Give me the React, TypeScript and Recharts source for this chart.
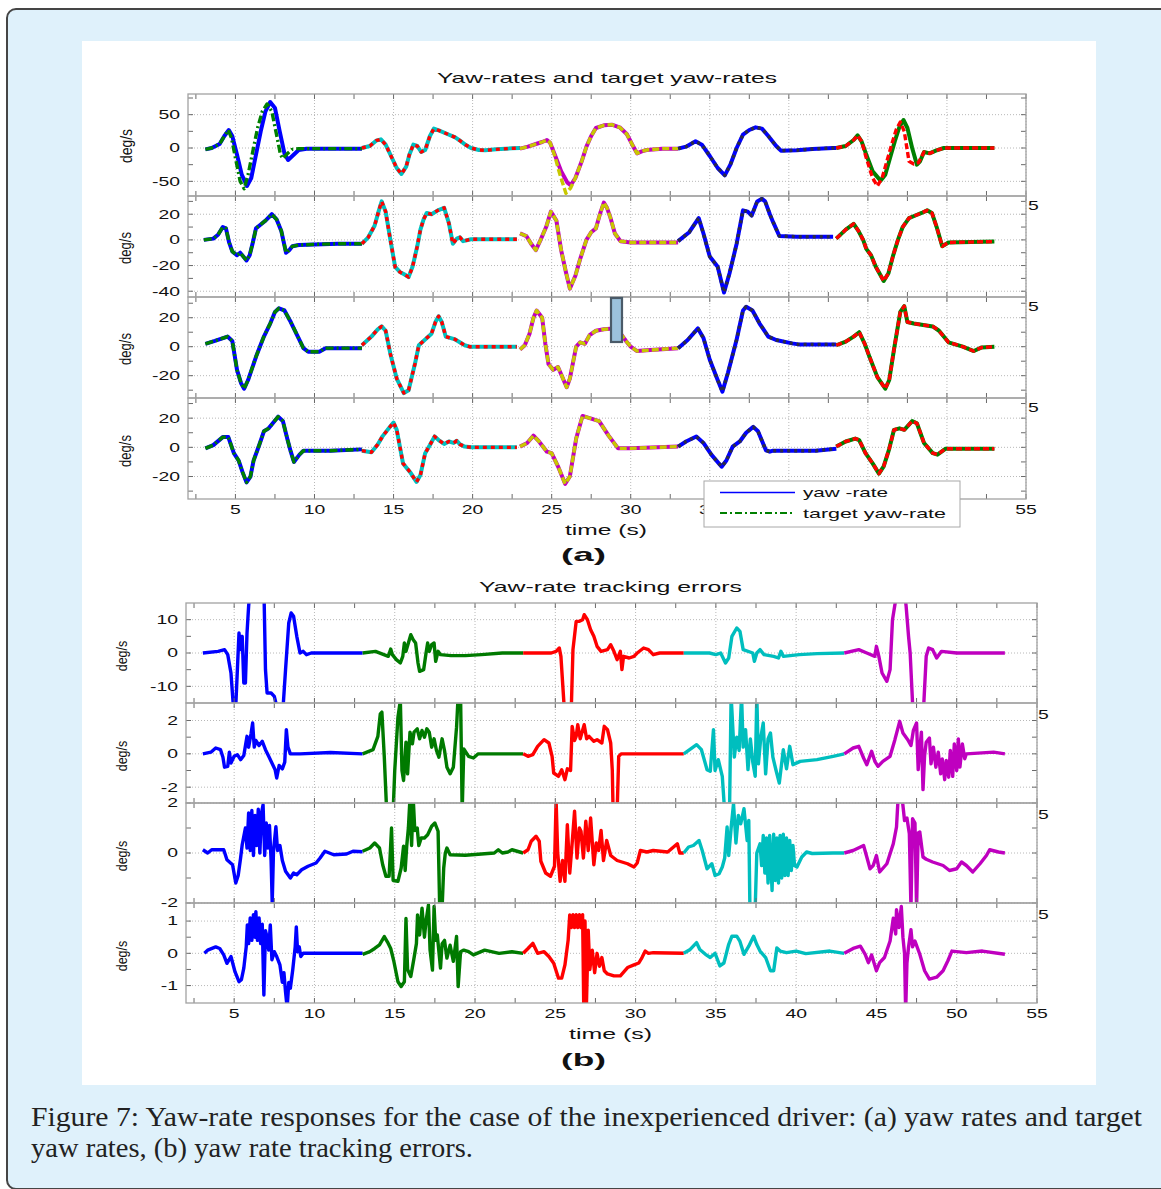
import React from "react";
import { LineChart, Line, XAxis, YAxis, CartesianGrid } from "recharts";

type Pt = [number, number];

// ================= DATA =================
const X_TICKS = [2.5, 5, 7.5, 10, 12.5, 15, 17.5, 20, 22.5, 25, 27.5, 30, 32.5, 35, 37.5, 40, 42.5, 45, 47.5, 50, 52.5, 55];
const X_LABELS = [5, 10, 15, 20, 25, 30, 35, 40, 45, 50, 55];
// in (a) the labels 40, 45, 50 are hidden behind the legend box
const X_LABELS_A = [5, 10, 15, 20, 25, 30, 35, 55];
const X_DOMAIN: [number, number] = [2, 55];

// (a) panel 1
const a1Seg1Yaw: Pt[] = [[3.1,-2],[3.5,0],[4.0,6],[4.3,18],[4.58,27],[4.8,18],[5.1,-10],[5.4,-40],[5.73,-57],[6.0,-45],[6.3,-10],[6.6,25],[6.9,55],[7.2,69],[7.5,60],[7.8,25],[8.1,-8],[8.33,-18],[8.6,-12],[9.0,-3],[9.5,-1],[10,-1],[13,-1]];
const a1Seg1Target: Pt[] = [[3.1,-2],[3.5,0],[4.0,6],[4.3,18],[4.55,27],[4.75,15],[5.0,-15],[5.3,-50],[5.55,-61],[5.8,-40],[6.1,-5],[6.4,30],[6.7,55],[7.0,66],[7.3,55],[7.6,20],[7.85,-10],[8.0,-16],[8.3,-8],[8.6,-2],[9.0,-1],[13,-1]];
const a1Seg2: Pt[] = [[13,0],[13.5,3],[13.9,11],[14.2,13],[14.5,5],[14.9,-15],[15.2,-30],[15.5,-39],[15.8,-28],[16.0,-10],[16.25,5],[16.5,3],[16.75,-6],[17.0,-3],[17.3,18],[17.55,29],[17.9,26],[18.4,21],[18.9,16],[19.2,11],[19.6,4],[19.9,0],[20.4,-3],[20.8,-3.5],[21.5,-2],[22.5,-0.5],[23,0]];
const a1Seg3Yaw: Pt[] = [[23,-1],[23.5,2],[24,6],[24.4,9],[24.7,12],[24.9,8],[25.2,-10],[25.6,-35],[26.0,-52],[26.2,-56],[26.5,-45],[26.9,-20],[27.2,2],[27.5,18],[27.8,30],[28.3,34],[28.8,35],[29.3,31],[29.75,21],[30.1,5],[30.4,-8],[30.7,-5],[31.0,-3],[32,-1],[33,-1]];
const a1Seg3Target: Pt[] = [[23,-1],[23.5,2],[24,6],[24.4,9],[24.7,12],[24.9,8],[25.2,-12],[25.5,-38],[25.9,-68],[26.2,-60],[26.5,-45],[26.9,-20],[27.2,2],[27.5,18],[27.8,30],[28.3,34],[28.8,35],[29.3,31],[29.75,21],[30.1,5],[30.4,-8],[30.7,-5],[31.0,-3],[32,-1],[33,-1]];
const a1Seg4: Pt[] = [[33,-1],[33.5,2],[34.1,10],[34.5,5],[35.0,-12],[35.5,-30],[35.95,-41],[36.3,-25],[36.7,0],[37.1,20],[37.5,27],[37.9,31],[38.3,29],[38.7,18],[39.2,3],[39.5,-4],[40.5,-3.5],[41.5,-1.5],[42.8,0],[43,0]];
const a1Seg5Yaw: Pt[] = [[43,0],[43.6,3],[44.1,12],[44.35,19],[44.6,10],[44.9,-10],[45.3,-35],[45.8,-49],[46.1,-40],[46.4,-15],[46.7,10],[47.0,32],[47.25,42],[47.5,30],[47.8,0],[48.1,-25],[48.3,-20],[48.55,-6],[48.9,-8],[49.3,-4],[49.8,0],[53,0]];
const a1Seg5Target: Pt[] = [[43,0],[43.6,3],[44.1,12],[44.35,19],[44.6,10],[44.9,-15],[45.3,-45],[45.6,-57],[45.9,-45],[46.2,-20],[46.5,5],[46.8,28],[47.05,39],[47.3,25],[47.6,-20],[47.9,-24],[48.2,-22],[48.55,-6],[48.9,-8],[49.3,-4],[49.8,0],[53,0]];

// (a) panel 2
const a2Seg1: Pt[] = [[3,0],[3.6,1],[3.9,4],[4.2,10],[4.4,9],[4.6,-2],[4.8,-9],[5.1,-12],[5.3,-10],[5.5,-13],[5.7,-16],[5.9,-12],[6.1,-2],[6.3,9],[6.6,12],[6.9,15],[7.3,20],[7.6,16],[7.9,7],[8.2,-10],[8.4,-8],[8.6,-5],[9.0,-4],[10,-3.5],[11.5,-3],[13,-3]];
const a2Seg2: Pt[] = [[13,-3],[13.4,2],[13.8,11],[14.05,22],[14.25,30],[14.5,22],[14.8,0],[15.1,-21],[15.4,-25],[15.7,-27],[15.95,-29],[16.2,-21],[16.5,-5],[16.7,8],[16.9,16],[17.1,21],[17.4,20],[17.8,23],[18.2,25],[18.5,13],[18.75,-3],[19.0,1],[19.2,2],[19.4,-1],[19.9,0.5],[22.8,0.5]];
const a2Seg3: Pt[] = [[23,5],[23.4,3],[23.7,-3],[24.0,-8],[24.3,0],[24.65,10],[24.95,22],[25.3,15],[25.6,-8],[25.9,-25],[26.15,-38],[26.5,-28],[26.8,-15],[27.2,0],[27.5,6],[27.8,9],[28.05,20],[28.3,29],[28.5,25],[28.7,18],[29.0,5],[29.35,-1],[30,-2],[33,-2]];
const a2Seg4: Pt[] = [[33,-1],[33.7,6],[34.3,17],[34.6,5],[35.0,-13],[35.5,-21],[35.9,-41],[36.25,-26],[36.7,-3],[37.1,23],[37.4,22],[37.65,19],[38.0,30],[38.3,32],[38.5,30],[38.8,20],[39.0,14],[39.4,3],[40.5,2.5],[42.8,2.5]];
const a2Seg5: Pt[] = [[43,1],[43.6,8],[44.1,12.5],[44.4,7],[44.7,0],[44.9,-7],[45.2,-12],[45.5,-21],[46.0,-32],[46.3,-26],[46.6,-12],[46.9,0],[47.2,10],[47.6,17],[48.0,19],[48.4,21],[48.75,23],[49.05,21],[49.35,10],[49.7,-5],[50.1,-2],[53,-1.3]];

// (a) panel 3
const a3Seg1: Pt[] = [[3.1,2],[3.7,4],[4.5,7],[4.8,4],[5.1,-16],[5.35,-25],[5.55,-29],[5.8,-23],[6.3,-7],[6.8,7],[7.2,16],[7.5,24],[7.75,26.5],[8.1,25],[8.5,17],[8.9,8],[9.3,-1],[9.6,-3.5],[10.3,-3.5],[10.7,-1],[13,-1]];
const a3Seg2: Pt[] = [[13,1],[13.6,7],[14.0,12],[14.25,14],[14.5,11],[14.8,-5],[15.2,-22],[15.65,-32],[15.95,-30],[16.35,-12],[16.6,1],[17.0,5],[17.4,9],[17.65,17],[17.85,21],[18.05,17],[18.3,7],[18.9,5],[19.5,1],[19.8,0],[22.8,0]];
const a3Seg3: Pt[] = [[23,-2],[23.3,1],[23.6,9],[23.85,20],[24.05,25],[24.4,20],[24.6,2],[24.8,-12],[25.1,-16],[25.4,-14],[25.6,-19],[25.95,-28],[26.15,-22],[26.55,0],[26.8,3],[27.1,2],[27.4,8],[27.8,11],[28.3,12],[28.9,12.5],[29.3,10],[29.7,4],[30.0,0],[30.4,-3],[31,-2.5],[33,-1]];
const a3Seg4: Pt[] = [[33,-1],[33.6,4.6],[34.25,12.6],[34.6,6],[35.0,-9],[35.5,-23],[35.8,-31],[36.15,-18],[36.7,5],[37.1,25],[37.3,27.6],[37.7,25],[38.15,16],[38.7,7],[39.2,4.6],[40.2,2.3],[40.6,1.6],[43,1.6]];
const a3Seg5: Pt[] = [[43,1],[43.6,3.5],[44.1,7],[44.45,10],[44.8,2],[45.1,-7],[45.6,-21],[46.1,-29],[46.35,-23],[46.65,-2],[47.05,24],[47.3,28],[47.5,17],[47.9,16],[48.5,15],[49.1,14],[49.5,11],[50.1,3],[51.0,0],[51.7,-3],[52.2,-0.5],[53,0]];

// (a) panel 4
const a4Seg1: Pt[] = [[3.1,-0.7],[3.6,1.5],[4.2,7],[4.55,7],[4.9,-4],[5.2,-9],[5.45,-17],[5.7,-24],[5.95,-20],[6.15,-9],[6.55,3],[6.8,11],[7.1,13],[7.4,17],[7.7,21],[8.0,18],[8.3,5],[8.5,-3],[8.7,-10],[9.05,-5],[9.3,-2.3],[11,-2.3],[13,-1.4]];
const a4Seg2: Pt[] = [[13,-2.3],[13.6,-3.4],[14.0,2],[14.3,7.5],[14.7,13],[15.0,17],[15.2,12],[15.6,-11],[16.05,-17],[16.45,-23.7],[16.7,-19],[17.0,-4],[17.3,1.6],[17.6,7.5],[17.85,5],[18.2,2.3],[18.5,4],[18.8,3],[19.0,4.5],[19.2,2],[19.5,0.5],[19.9,0],[22.8,0]];
const a4Seg3: Pt[] = [[23,0.5],[23.45,3],[23.85,8],[24.2,4],[24.7,-3],[25.0,-4],[25.4,-13],[25.85,-25],[26.15,-20],[26.55,6],[26.95,21.5],[27.4,20],[28.0,18],[28.3,13],[28.6,8],[29.2,-0.7],[30,-0.7],[33,0.5]];
const a4Seg4: Pt[] = [[33,0.5],[33.5,4],[34.15,7.4],[34.6,3],[35.1,-5],[35.75,-13.3],[36.05,-9],[36.45,0.5],[36.9,4],[37.3,10],[37.75,14],[38.05,11],[38.55,-2],[38.8,-3],[39.0,-2.3],[41.7,-2.3],[43,-1]];
const a4Seg5: Pt[] = [[43,0.5],[43.6,4],[44.2,6],[44.45,5],[44.85,-4],[45.3,-11],[45.7,-18],[46.0,-13],[46.35,-1],[46.65,12],[47.0,13],[47.3,12],[47.8,18],[48.1,16.5],[48.55,3],[49.1,-4],[49.4,-5],[49.9,-1],[53,-1]];

// (b) panel 1 errors
const b1Seg1: Pt[] = [[3.05,0],[4.0,0.5],[4.4,1],[4.6,-0.5],[4.8,-6],[4.95,-16],[5.1,-16],[5.2,-5],[5.3,6],[5.4,1],[5.5,5],[5.6,-9],[5.7,-9],[5.8,6],[5.9,14],[6.0,20],[6.5,30],[6.85,20],[6.95,-5],[7.05,-12],[7.3,-12],[7.5,-13],[7.65,-16],[8.05,-16],[8.2,-5],[8.4,9],[8.55,12],[8.7,11],[8.9,5],[9.1,0],[9.3,0.5],[9.5,-0.5],[9.8,0],[13,0]];
const b1Seg2: Pt[] = [[13,0],[13.8,0.5],[14.6,-1],[14.75,1.2],[14.85,-0.5],[15.1,-2],[15.35,-3],[15.5,-1],[15.6,3],[15.7,0.5],[15.85,3],[16.0,5.5],[16.15,4],[16.3,3],[16.45,-3],[16.55,-5.5],[16.8,-5],[16.95,0],[17.05,3],[17.15,0.5],[17.3,2.5],[17.45,3],[17.55,-2.5],[17.7,0.5],[17.85,-0.5],[18.5,-0.8],[19.4,-0.8],[20.4,-0.5],[21.7,0],[23,0]];
const b1Seg3: Pt[] = [[23,0],[24.75,0],[25.05,0.5],[25.25,1.5],[25.35,-1],[25.55,-16],[26.0,-16],[26.1,1],[26.3,9.5],[26.5,9.5],[26.7,10],[26.8,11.5],[27.0,10],[27.2,7],[27.4,5],[27.6,2],[27.85,0.5],[28.25,1],[28.45,2.5],[28.65,0.5],[28.85,-2],[29.05,0.5],[29.15,-5],[29.25,-1],[29.6,-1.5],[29.9,-1],[30.1,0],[30.5,1.5],[30.8,1],[31.1,-0.5],[31.5,0],[33,0]];
const b1Seg4: Pt[] = [[33,0],[34.6,0],[35.0,-0.5],[35.3,0],[35.6,-3],[35.8,-1.5],[36.0,5],[36.3,7.5],[36.5,6.5],[36.7,1],[37.3,0],[37.4,-2.5],[37.55,0],[37.75,1],[38.0,-0.5],[38.6,-1],[38.9,-1.5],[39.05,0.5],[39.2,-1],[40.2,-0.5],[41.3,-0.2],[43,0]];
const b1Seg5: Pt[] = [[43,0],[43.9,1],[44.4,0],[44.9,-1],[45.0,2],[45.15,-1],[45.35,-6],[45.65,-8.5],[45.85,-5],[46.0,10],[46.15,14.5],[46.35,20],[46.6,25],[46.85,14],[47.0,5],[47.1,0],[47.3,-20],[47.9,-20],[48.1,-1],[48.25,1.5],[48.5,1],[48.75,-1.5],[49.05,0.5],[50,0],[53,0]];

// (b) panel 2
const b2Seg1: Pt[] = [[3.05,0],[3.55,0.1],[3.85,0.35],[4.15,0.25],[4.3,-0.2],[4.4,-0.8],[4.6,-0.75],[4.7,0.1],[4.8,-0.55],[5.0,-0.15],[5.2,-0.05],[5.4,-0.35],[5.6,-0.1],[5.8,1.05],[5.9,0.4],[6.05,1.2],[6.15,1.85],[6.25,0.4],[6.35,0.8],[6.55,0.5],[6.75,0.75],[6.95,0.25],[7.15,-0.15],[7.35,-0.55],[7.55,-0.95],[7.65,-1.45],[7.8,-0.7],[8.0,-0.9],[8.15,-0.5],[8.25,1.45],[8.35,0.4],[8.5,0],[9.1,0],[11,0.08],[13,0]];
const b2Seg2: Pt[] = [[13,0],[13.65,0.25],[13.95,1.05],[14.1,2.4],[14.2,2.5],[14.35,-0.2],[14.5,-3.5],[14.9,-3.5],[15.0,-1],[15.2,2.2],[15.35,3.2],[15.45,-1],[15.55,-1.6],[15.7,0.7],[15.8,-1.2],[15.95,1.3],[16.1,0.6],[16.2,1.3],[16.4,1.5],[16.55,0.9],[16.7,1.4],[16.85,1.0],[17.0,1.5],[17.15,1.3],[17.3,0.4],[17.45,0.9],[17.6,0.2],[17.75,-0.2],[17.95,0.9],[18.1,0.2],[18.25,-0.8],[18.45,-1.2],[18.65,-0.8],[18.85,1.6],[18.95,3.5],[19.1,3.5],[19.2,-3.5],[19.3,0.3],[19.6,-0.15],[19.9,-0.25],[20.2,0],[23,0]];
const b2Seg3: Pt[] = [[23,0],[23.3,-0.15],[23.6,-0.05],[23.9,0.45],[24.3,0.85],[24.6,0.65],[24.8,-0.15],[24.9,-1.15],[25.2,-1.35],[25.4,-0.95],[25.6,-1.55],[25.75,-0.9],[25.95,-1.0],[26.05,1.65],[26.2,0.8],[26.3,1.05],[26.4,1.75],[26.55,0.9],[26.8,1.75],[26.95,0.9],[27.1,1.05],[27.4,0.75],[27.6,0.85],[27.9,0.65],[28.05,1.65],[28.25,1.45],[28.45,0.65],[28.55,-1],[28.6,-3.5],[28.85,-3.5],[28.95,-0.15],[29.1,0],[33,0]];
const b2Seg4: Pt[] = [[33,0],[33.8,0.55],[34.1,0.25],[34.45,-0.95],[34.65,-1.05],[34.85,1.45],[34.95,-1.0],[35.15,-0.35],[35.4,-1.35],[35.55,-3.5],[35.85,-3.5],[35.95,3.5],[36.15,-0.2],[36.3,1.0],[36.45,0.2],[36.6,3.5],[36.7,0.4],[36.85,1.45],[37.0,-0.95],[37.15,0.9],[37.3,-0.5],[37.45,-1.35],[37.55,3.5],[37.65,-0.6],[37.8,1.0],[37.95,1.85],[38.1,-1.2],[38.25,0.9],[38.4,1.25],[38.55,-0.2],[38.75,-1.0],[38.95,-1.75],[39.2,0.25],[39.4,-0.9],[39.6,0.45],[39.8,-0.65],[40.25,-0.45],[41.3,-0.35],[42.3,-0.15],[43,0]];
const b2Seg5: Pt[] = [[43,0],[43.55,0.35],[43.9,0.45],[44.2,-0.25],[44.4,-0.65],[44.7,0.15],[44.9,-0.45],[45.1,-0.75],[45.4,-0.45],[45.85,-0.15],[46.15,0.85],[46.45,1.95],[46.65,1.25],[46.95,0.85],[47.15,0.5],[47.3,1.4],[47.5,1.85],[47.6,-0.95],[47.7,0.3],[47.8,1.3],[47.9,-2.15],[48.0,-0.1],[48.1,0.7],[48.3,0.95],[48.4,-0.6],[48.55,0.4],[48.7,-0.8],[48.85,0.1],[49.0,-1.2],[49.1,-0.3],[49.25,-1.55],[49.35,-0.4],[49.5,-1.4],[49.6,0.2],[49.75,-1.35],[49.85,0.6],[50.0,-1.0],[50.1,0.9],[50.2,-0.8],[50.35,0.6],[50.5,-0.3],[50.6,0],[52.3,0.1],[53,0]];

// (b) panel 3
const b3Seg1: Pt[] = [[3.05,0.13],[3.35,0],[3.6,0.13],[4.35,0.13],[4.55,-0.27],[4.9,-0.47],[5.1,-1.2],[5.25,-0.9],[5.4,-0.2],[5.5,0.33],[5.7,1.0],[5.8,0.2],[5.9,1.6],[6.0,0.1],[6.1,1.7],[6.2,-0.1],[6.3,1.5],[6.4,0.3],[6.5,1.75],[6.6,0],[6.7,1.6],[6.8,1.93],[6.9,-0.1],[7.0,1.2],[7.1,0.2],[7.2,1.1],[7.3,-0.3],[7.37,-2.0],[7.45,0.1],[7.6,1.05],[7.7,0.1],[7.85,0.3],[8.0,-0.3],[8.2,-0.73],[8.5,-1.0],[8.7,-0.8],[8.9,-0.87],[9.2,-0.67],[9.6,-0.53],[10.1,-0.4],[10.35,-0.2],[10.65,0.07],[11.2,-0.07],[12.0,-0.04],[12.4,0.07],[13,0.05]];
const b3Seg2: Pt[] = [[13,0.07],[13.45,0.2],[13.75,0.4],[14.05,0.2],[14.25,-0.47],[14.45,-0.93],[14.65,-0.93],[14.8,1.0],[14.9,-1.1],[15.2,-1.13],[15.4,-0.6],[15.55,0.27],[15.65,-0.7],[15.75,0.3],[15.85,1.0],[15.95,2.2],[16.05,0.3],[16.15,2.2],[16.25,0.9],[16.4,1.0],[16.5,0.3],[16.65,0.6],[16.85,0.6],[17.05,0.73],[17.3,1.07],[17.5,1.2],[17.7,0.87],[17.8,-2.2],[17.95,-2.2],[18.05,-0.6],[18.15,0],[18.25,0.2],[18.45,-0.07],[19.4,-0.09],[20.4,-0.04],[21.2,0],[21.45,0.13],[21.7,0.0],[22.05,0.04],[22.3,0.13],[23,0]];
const b3Seg3: Pt[] = [[23,0],[23.3,0.13],[23.5,0.47],[23.8,0.67],[24.0,0.47],[24.1,-0.33],[24.4,-0.8],[24.7,-0.93],[24.95,-0.53],[25.05,2.1],[25.15,0.0],[25.3,-1.13],[25.45,-0.3],[25.6,-1.13],[25.75,1.13],[25.9,-0.8],[26.05,0.4],[26.2,1.67],[26.35,-0.2],[26.5,1.0],[26.6,0.87],[26.75,-0.2],[26.9,1.27],[27.05,0.1],[27.2,1.4],[27.4,-0.47],[27.55,0.4],[27.7,0.1],[27.85,0.9],[28.0,-0.3],[28.2,0.5],[28.45,-0.1],[28.85,-0.3],[29.5,-0.43],[29.9,-0.56],[30.1,-0.4],[30.3,0.1],[30.7,0.04],[31.1,0.1],[32.0,0.04],[32.6,0.37],[32.75,0],[33,0]];
const b3Seg4: Pt[] = [[33,0],[33.3,0.24],[33.6,0.3],[33.95,0.5],[34.15,0.1],[34.45,-0.63],[34.75,-0.43],[34.95,-0.9],[35.2,-0.83],[35.4,-0.56],[35.55,-0.2],[35.7,1.04],[35.8,-0.1],[35.95,1.0],[36.1,1.97],[36.25,0.4],[36.4,1.5],[36.55,1.17],[36.75,1.77],[36.95,0.5],[37.05,1.3],[37.12,-2.2],[37.45,-2.2],[37.55,0.0],[37.75,0.37],[37.85,-0.5],[37.95,0.7],[38.05,-0.8],[38.15,0.6],[38.25,-1.2],[38.35,0.7],[38.5,-1.5],[38.6,0.75],[38.7,-1.1],[38.8,0.6],[38.9,-1.2],[39.0,0.7],[39.1,-1.0],[39.2,0.75],[39.3,-0.9],[39.4,0.6],[39.5,-0.9],[39.6,0.5],[39.7,-0.7],[39.8,0.3],[39.9,-0.5],[40.05,-0.56],[40.35,-0.16],[40.65,0.04],[41,-0.02],[42.3,0],[43,0]];
const b3Seg5: Pt[] = [[43,0],[43.55,0.1],[44.2,0.3],[44.4,-0.16],[44.6,-0.63],[44.8,-0.5],[45.0,-0.1],[45.2,-0.76],[45.65,-0.43],[46.05,0.37],[46.25,1.04],[46.35,2.2],[46.6,2.2],[46.75,1.3],[46.9,1.4],[47.05,0.77],[47.15,-2.2],[47.25,1.37],[47.4,1.2],[47.5,-2.2],[47.6,0.8],[47.7,0.84],[47.9,-0.16],[48.1,-0.25],[48.5,-0.36],[49.15,-0.5],[49.55,-0.7],[50.0,-0.63],[50.3,-0.36],[50.6,-0.5],[51.0,-0.76],[51.45,-0.43],[51.85,-0.1],[52.05,0.13],[52.6,0.04],[53,0]];

// (b) panel 4
const b4Seg1: Pt[] = [[3.15,0],[3.35,0.1],[3.85,0.2],[4.1,0.15],[4.35,-0.05],[4.55,-0.31],[4.8,-0.1],[5.05,-0.57],[5.3,-0.88],[5.45,-0.82],[5.6,-0.46],[5.75,0.2],[5.82,0.88],[5.9,0.3],[6.0,1.1],[6.1,0.4],[6.2,1.2],[6.3,0.5],[6.35,1.29],[6.45,0.4],[6.55,1.1],[6.65,0.3],[6.75,0.9],[6.85,-1.29],[6.95,0.7],[7.05,0.5],[7.15,0.1],[7.25,0.88],[7.35,-0.2],[7.5,0.05],[7.65,-0.1],[7.85,-0.36],[8.0,-0.9],[8.1,-0.6],[8.2,-1.2],[8.3,-1.7],[8.4,-0.9],[8.5,-1.08],[8.65,-0.5],[8.8,0.2],[8.87,0.82],[8.95,0.05],[9.05,0.2],[9.15,-0.1],[9.3,0],[13,0]];
const b4Seg2: Pt[] = [[13,-0.03],[13.45,0.05],[13.75,0.15],[14.05,0.26],[14.35,0.52],[14.55,0.35],[14.75,0.15],[14.95,-0.26],[15.2,-0.88],[15.4,-1.03],[15.6,-0.88],[15.7,1.08],[15.8,-0.5],[16.0,-0.72],[16.2,-0.15],[16.35,0.3],[16.42,1.19],[16.55,0.57],[16.7,1.4],[16.85,0.5],[16.95,1.0],[17.1,1.5],[17.2,0.1],[17.35,-0.52],[17.45,1.45],[17.55,0.4],[17.65,0.57],[17.85,-0.46],[17.95,0.3],[18.1,0.4],[18.25,-0.15],[18.45,0.25],[18.65,-0.25],[18.85,0.52],[18.95,-1.03],[19.1,0.05],[19.3,0.1],[19.6,0.05],[19.9,-0.05],[20.6,0.1],[21.5,0],[22.3,0.05],[23,0]];
const b4Seg3: Pt[] = [[23,0],[23.3,0.15],[23.6,0.31],[23.9,0],[24.3,0.05],[24.6,-0.1],[24.9,-0.31],[25.2,-0.77],[25.4,-0.77],[25.6,-0.36],[25.8,0.41],[25.9,1.19],[26.0,0.8],[26.1,1.2],[26.2,0.8],[26.3,1.2],[26.4,0.8],[26.5,1.2],[26.6,0.8],[26.7,1.2],[26.78,-2.0],[26.85,1.0],[26.92,-2.0],[27.05,0.72],[27.15,-0.5],[27.3,0.1],[27.45,-0.6],[27.6,0.0],[27.75,-0.4],[27.9,-0.13],[28.05,-0.54],[28.25,-0.64],[28.65,-0.7],[29.05,-0.7],[29.5,-0.44],[29.9,-0.36],[30.2,-0.3],[30.4,-0.13],[30.6,0.07],[30.8,0.0],[31.1,0.02],[33,0]];
const b4Seg4: Pt[] = [[33,0],[33.4,0.12],[33.8,0.33],[34.0,0.12],[34.35,-0.03],[34.65,-0.13],[34.95,0],[35.25,-0.39],[35.5,-0.3],[35.8,0.28],[36.0,0.53],[36.3,0.53],[36.5,0.37],[36.75,-0.03],[37.05,0.22],[37.35,0.53],[37.55,0.27],[37.75,0.07],[38.1,-0.13],[38.4,-0.54],[38.6,-0.54],[38.8,0.17],[39.0,0.07],[39.4,0.02],[40.0,0.07],[40.6,-0.01],[42.1,0.07],[43,0]];
const b4Seg5: Pt[] = [[43,0],[43.55,0.15],[44.0,0.22],[44.3,-0.03],[44.5,-0.29],[44.7,-0.05],[45.0,-0.54],[45.2,-0.29],[45.5,-0.13],[45.85,0.38],[46.05,1.09],[46.2,0.6],[46.25,1.35],[46.4,0.8],[46.55,1.45],[46.65,0.5],[46.75,0.0],[46.82,-1.8],[46.9,-0.3],[47.0,0.2],[47.15,0.73],[47.25,0.2],[47.4,0.38],[47.7,-0.03],[48.0,-0.54],[48.3,-0.8],[48.75,-0.74],[49.15,-0.54],[49.45,-0.23],[49.7,0.07],[50.6,0.02],[51.6,0.07],[53,-0.03]];

// ================= STYLE =================
const FONT = "'Liberation Sans', Arial, Helvetica, sans-serif";
const SX = 1.55;
const FRAME_C = "#a2a2a2";
const TICK_C = "#6a6a6a";
const GRID_C = "#b8b8b8";

const C = {
  blue: "#0000ff", green: "#008000", cyan: "#00c0c0", red: "#ff0000",
  yellow: "#c8c800", magenta: "#c000c0", dark: "#2c2c44",
  bBlue: "#0000ff", bGreen: "#007a00", bRed: "#ff0000", bCyan: "#00bebe", bMag: "#bf00bf",
};

interface Series { data: Pt[]; color: string; width: number; dash?: string }
interface PanelCfg {
  left: number; right: number; top: number; bottom: number;
  domain: [number, number]; ticks: number[]; labels: number[];
  series: Series[]; xLabels: number[];
}

const pairA = (yaw: Pt[], target: Pt[], solid: string, dashed: string, dash: string): Series[] => [
  { data: yaw, color: solid, width: 4 },
  { data: target, color: dashed, width: 3.4, dash },
];

const DD = "8 3 2 3";
const segsA = (s1: Pt[], s1t: Pt[], s2: Pt[], s3: Pt[], s3t: Pt[], s4: Pt[], s5: Pt[], s5t: Pt[]): Series[] => [
  ...pairA(s1, s1t, C.blue, C.green, DD),
  ...pairA(s2, s2, C.cyan, C.red, "4 4"),
  ...pairA(s3, s3t, C.magenta, C.yellow, "7 3"),
  ...pairA(s4, s4, C.blue, C.dark, "3 4"),
  ...pairA(s5, s5t, C.green, C.red, "6 3"),
];

const segsB = (s1: Pt[], s2: Pt[], s3: Pt[], s4: Pt[], s5: Pt[]): Series[] => [
  { data: s1, color: C.bBlue, width: 3.4 },
  { data: s2, color: C.bGreen, width: 3.4 },
  { data: s3, color: C.bRed, width: 3.4 },
  { data: s4, color: C.bCyan, width: 3.4 },
  { data: s5, color: C.bMag, width: 3.4 },
];

const AL = 188, AR = 1026, BL = 186, BR = 1037;
const TA = [30, 20, 10, 0, -10, -20, -30];

const PANELS: PanelCfg[] = [
  { left: AL, right: AR, top: 94, bottom: 196, domain: [-72, 81], ticks: [75, 50, 25, 0, -25, -50], labels: [50, 0, -50], xLabels: [],
    series: segsA(a1Seg1Yaw, a1Seg1Target, a1Seg2, a1Seg3Yaw, a1Seg3Target, a1Seg4, a1Seg5Yaw, a1Seg5Target) },
  { left: AL, right: AR, top: 196, bottom: 297, domain: [-44.5, 34.2], ticks: [30, 20, 10, 0, -10, -20, -30, -40], labels: [20, 0, -20, -40], xLabels: [],
    series: segsA(a2Seg1, a2Seg1, a2Seg2, a2Seg3, a2Seg3, a2Seg4, a2Seg5, a2Seg5) },
  { left: AL, right: AR, top: 297, bottom: 398, domain: [-35.4, 34.3], ticks: TA, labels: [20, 0, -20], xLabels: [],
    series: segsA(a3Seg1, a3Seg1, a3Seg2, a3Seg3, a3Seg3, a3Seg4, a3Seg5, a3Seg5) },
  { left: AL, right: AR, top: 398, bottom: 499, domain: [-35.4, 33.8], ticks: TA, labels: [20, 0, -20], xLabels: X_LABELS_A,
    series: segsA(a4Seg1, a4Seg1, a4Seg2, a4Seg3, a4Seg3, a4Seg4, a4Seg5, a4Seg5) },
  { left: BL, right: BR, top: 603, bottom: 703, domain: [-15, 15], ticks: [10, 5, 0, -5, -10], labels: [10, 0, -10], xLabels: [],
    series: segsB(b1Seg1, b1Seg2, b1Seg3, b1Seg4, b1Seg5) },
  { left: BL, right: BR, top: 703, bottom: 803, domain: [-2.95, 3.05], ticks: [2, 1, 0, -1, -2], labels: [2, 0, -2], xLabels: [],
    series: segsB(b2Seg1, b2Seg2, b2Seg3, b2Seg4, b2Seg5) },
  { left: BL, right: BR, top: 803, bottom: 903, domain: [-2, 2], ticks: [2, 1, 0, -1, -2], labels: [2, 0, -2], xLabels: [],
    series: segsB(b3Seg1, b3Seg2, b3Seg3, b3Seg4, b3Seg5) },
  { left: BL, right: BR, top: 903, bottom: 1003, domain: [-1.54, 1.56], ticks: [1, 0.5, 0, -0.5, -1], labels: [1, 0, -1], xLabels: X_LABELS,
    series: segsB(b4Seg1, b4Seg2, b4Seg3, b4Seg4, b4Seg5) },
];

// ================= COMPONENTS =================
function SText(props: { x: number; y: number; anchor?: string; size?: number; children: React.ReactNode }) {
  const { x, y, anchor = "middle", size = 12.5, children } = props;
  return (
    <text transform={`translate(${x},${y}) scale(${SX},1)`} textAnchor={anchor as any} fontFamily={FONT} fontSize={size} fill="#111">
      {children}
    </text>
  );
}

const ML = 90, MR = 20, MT = 10, MB = 30;

function Panel({ cfg }: { cfg: PanelCfg }) {
  const w = cfg.right - cfg.left;
  const h = cfg.bottom - cfg.top;
  const xTick = (tp: any) => {
    const v = tp.payload.value;
    return (
      <g>
        <line x1={tp.x} x2={tp.x} y1={tp.y} y2={tp.y - 5} stroke={TICK_C} strokeWidth={1} />
        <line x1={tp.x} x2={tp.x} y1={tp.y - h} y2={tp.y - h + 5} stroke={TICK_C} strokeWidth={1} />
        {cfg.xLabels.includes(v) ? <SText x={tp.x} y={tp.y + 14.5}>{String(v)}</SText> : null}
      </g>
    );
  };
  const yTick = (tp: any) => {
    const v = tp.payload.value;
    return (
      <g>
        <line x1={tp.x} x2={tp.x + 5} y1={tp.y} y2={tp.y} stroke={TICK_C} strokeWidth={1} />
        <line x1={tp.x + w} x2={tp.x + w - 5} y1={tp.y} y2={tp.y} stroke={TICK_C} strokeWidth={1} />
        {cfg.labels.includes(v) ? <SText x={tp.x - 8} y={tp.y + 4.4} anchor="end">{String(v)}</SText> : null}
      </g>
    );
  };
  return (
    <div style={{ position: "absolute", left: cfg.left - ML, top: cfg.top - MT }}>
      <LineChart width={w + ML + MR} height={h + MT + MB} margin={{ top: MT, right: MR, bottom: MB - 1, left: ML - 1 }}>
        <CartesianGrid xAxisId="b" yAxisId="l" stroke={GRID_C} strokeDasharray="1 2" horizontalValues={cfg.labels} verticalValues={X_LABELS} />
        <XAxis xAxisId="b" type="number" dataKey="t" domain={X_DOMAIN} ticks={X_TICKS} interval={0} height={1}
          tickLine={false} tickSize={0} tickMargin={0} axisLine={false} allowDataOverflow tick={xTick} />
        <YAxis yAxisId="l" type="number" domain={cfg.domain} ticks={cfg.ticks} interval={0} width={1}
          tickLine={false} tickSize={0} tickMargin={0} axisLine={false} allowDataOverflow tick={yTick} />
        {cfg.series.map((s, i) => (
          <Line key={i} xAxisId="b" yAxisId="l" data={s.data.map(([t, v]) => ({ t, v }))} dataKey="v" type="linear"
            stroke={s.color} strokeWidth={s.width} strokeDasharray={s.dash} dot={false} activeDot={false}
            isAnimationActive={false} strokeLinejoin="round" />
        ))}
      </LineChart>
    </div>
  );
}

function Overlay() {
  return (
    <svg width={1161} height={1189} style={{ position: "absolute", left: 0, top: 0, pointerEvents: "none" }}>
      {PANELS.map((p, i) => (
        <rect key={i} x={p.left} y={p.top} width={p.right - p.left} height={p.bottom - p.top} fill="none" stroke={FRAME_C} strokeWidth={1.3} />
      ))}
      {/* titles */}
      <text x={437} y={83} textLength={340} lengthAdjust="spacingAndGlyphs" fontFamily={FONT} fontSize={15} fill="#111">Yaw-rates and target yaw-rates</text>
      <text x={479} y={592} textLength={263} lengthAdjust="spacingAndGlyphs" fontFamily={FONT} fontSize={15} fill="#111">Yaw-rate tracking errors</text>
      <text x={565} y={535} textLength={82} lengthAdjust="spacingAndGlyphs" fontFamily={FONT} fontSize={14} fill="#111">time (s)</text>
      <text x={569} y={1039} textLength={83} lengthAdjust="spacingAndGlyphs" fontFamily={FONT} fontSize={14} fill="#111">time (s)</text>
      <text x={561} y={561} textLength={45} lengthAdjust="spacingAndGlyphs" fontFamily={FONT} fontSize={19} fontWeight="bold" fill="#111">(a)</text>
      <text x={561} y={1066} textLength={45} lengthAdjust="spacingAndGlyphs" fontFamily={FONT} fontSize={19} fontWeight="bold" fill="#111">(b)</text>
      {/* y labels */}
      {[[126, 146, 14], [126, 248, 13], [126, 349, 13], [126, 451, 13], [122, 656, 12.5], [122, 756, 12.5], [122, 856, 12.5], [122, 956, 12.5]].map(([x, y, s], i) => (
        <text key={i} transform={`translate(${x},${y}) rotate(-90) scale(1,1.2)`} textAnchor="middle" dominantBaseline="central" fontFamily={FONT} fontSize={s} fill="#111">deg/s</text>
      ))}
      {/* right-edge stray labels */}
      {[[1028, 210], [1028, 311], [1028, 412], [1038, 719], [1038, 819], [1038, 919]].map(([x, y], i) => (
        <SText key={i} x={x} y={y} anchor="start">5</SText>
      ))}
      {/* marker artifact */}
      <rect x={611} y={298} width={11} height={44} fill="#9cc2dd" stroke="#4a5a68" strokeWidth={2.2} />
      {/* legend */}
      <rect x={704} y={481} width={256} height={46} fill="#ffffff" stroke="#a8a8a8" strokeWidth={1} />
      <line x1={720} x2={795} y1={492.5} y2={492.5} stroke={C.blue} strokeWidth={1.5} />
      <line x1={720} x2={795} y1={513} y2={513} stroke={C.green} strokeWidth={1.8} strokeDasharray="7 3 2 3" />
      <text x={803} y={497} textLength={85} lengthAdjust="spacingAndGlyphs" fontFamily={FONT} fontSize={13} fill="#111">yaw -rate</text>
      <text x={803} y={518} textLength={143} lengthAdjust="spacingAndGlyphs" fontFamily={FONT} fontSize={13} fill="#111">target yaw-rate</text>
      {/* caption */}
      <text x={31} y={1126} textLength={1111} lengthAdjust="spacingAndGlyphs" fontFamily="'Liberation Serif', 'DejaVu Serif', serif" fontSize={28} fill="#222">Figure 7: Yaw-rate responses for the case of the inexperienced driver: (a) yaw rates and target</text>
      <text x={31} y={1157} textLength={442} lengthAdjust="spacingAndGlyphs" fontFamily="'Liberation Serif', 'DejaVu Serif', serif" fontSize={28} fill="#222">yaw rates, (b) yaw rate tracking errors.</text>
    </svg>
  );
}

export default function App() {
  return (
    <div style={{ position: "absolute", left: 0, top: 0, width: 1161, height: 1189, overflow: "hidden", background: "#ffffff" }}>
      <div style={{ position: "absolute", left: 6, top: 8, width: 1200, height: 1182, background: "#dff1fb", border: "2px solid #454545", borderRadius: 10, boxSizing: "border-box" }} />
      <div style={{ position: "absolute", left: 82, top: 41, width: 1014, height: 1044, background: "#ffffff" }} />
      {PANELS.map((p, i) => <Panel key={i} cfg={p} />)}
      <Overlay />
    </div>
  );
}
